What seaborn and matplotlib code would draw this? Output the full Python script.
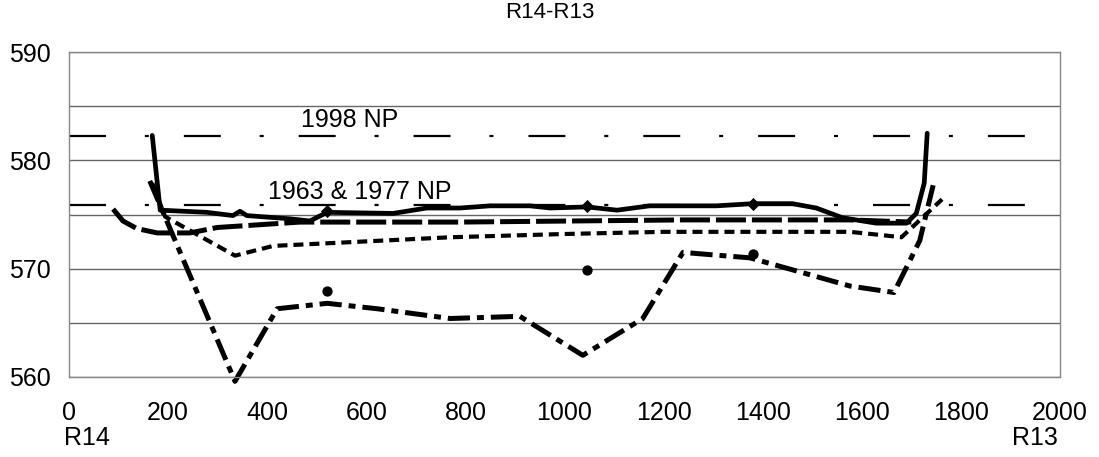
import matplotlib
matplotlib.use('Agg')
import matplotlib.pyplot as plt
import seaborn as sns
import pandas as pd

# Dados
x_1998 = [168, 184, 278, 331, 345, 359, 446, 486, 521, 654, 722, 789, 850, 930, 971, 1045,
          1106, 1172, 1307, 1380, 1460, 1508, 1561, 1629, 1690, 1710, 1726, 1732]
y_1998 = [582.3, 575.4, 575.2, 574.9, 575.3, 574.9, 574.6, 574.4, 575.2, 575.1, 575.6, 575.6,
          575.8, 575.8, 575.6, 575.7, 575.4, 575.8, 575.8, 576.0, 576.0, 575.6, 574.7, 574.2,
          574.2, 575.1, 577.9, 582.5]

x_1977 = [89, 109, 137, 178, 244, 299, 466, 789, 1239, 1576, 1700]
y_1977 = [575.5, 574.4, 573.7, 573.3, 573.3, 573.8, 574.3, 574.3, 574.5, 574.5, 574.3]

x_1963 = [168, 194, 335, 412, 547, 770, 1000, 1200, 1410, 1576, 1640, 1680, 1762]
y_1963 = [577.9, 574.8, 571.2, 572.1, 572.4, 572.9, 573.2, 573.4, 573.4, 573.4, 573.1, 572.9, 576.4]

x_talv = [163, 335, 420, 521, 622, 769, 910, 1037, 1158, 1239, 1374, 1576, 1665, 1717, 1744]
y_talv = [578.1, 559.6, 566.3, 566.8, 566.3, 565.4, 565.6, 562.0, 565.4, 571.5, 571.0, 568.4,
          567.8, 572.6, 577.7]

x_pontos = [521, 1045, 1380]
y_pontos = [567.9, 569.9, 571.4]
y_marcas = [575.3, 575.8, 576.0]

np_1998 = 582.2
np_1963_1977 = 575.9

sns.set_theme(style='white')
plt.rcParams['font.family'] = ['Liberation Sans', 'DejaVu Sans']
plt.rcParams['lines.scale_dashes'] = False
plt.rcParams['text.color'] = 'black'
plt.rcParams['xtick.labelcolor'] = 'black'
plt.rcParams['ytick.labelcolor'] = 'black'

fig = plt.figure(figsize=(10.99, 4.57), dpi=100)
ax = fig.add_axes([69/1099, 1 - 377/457, (1060 - 69)/1099, (377 - 52)/457])

# Linhas de nível NP
np_style = (0, (26.6, 28, 2.9, 25.2))
for nivel in [np_1998, np_1963_1977]:
    sns.lineplot(x=[0, 2000], y=[nivel, nivel], color='black', lw=1.6, linestyle=np_style, ax=ax)

# Séries
sns.lineplot(x=x_1977, y=y_1977, sort=False, color='black', lw=3.6,
             linestyle=(0, (21.6, 4.3)), ax=ax)
sns.lineplot(x=x_1963, y=y_1963, sort=False, color='black', lw=3.0,
             linestyle=(0, (7.2, 4.3)), ax=ax)
sns.lineplot(x=x_talv, y=y_talv, sort=False, color='black', lw=3.6,
             linestyle=(0, (16, 5, 5, 5)), ax=ax, clip_on=False)
sns.lineplot(x=x_1998, y=y_1998, sort=False, color='black', lw=3.4, ax=ax)

sns.scatterplot(x=x_pontos, y=y_marcas, marker='D', s=45, color='black', edgecolor='black',
                linewidth=0, ax=ax, zorder=5)
sns.scatterplot(x=x_pontos, y=y_pontos, marker='o', s=55, color='black', edgecolor='black',
                linewidth=0, ax=ax, zorder=5)

ax.text(567, 583.7, '1998 NP', fontsize=18, ha='center', va='center')
ax.text(587, 577.1, '1963 & 1977 NP', fontsize=18, ha='center', va='center')

ax.set_xlim(0, 2000)
ax.set_ylim(560, 590)
ax.set_xticks(range(0, 2001, 200))
ax.set_xticks(range(100, 2000, 200), minor=True)
ax.set_yticks([560, 570, 580, 590])
ax.set_yticks([565, 575, 585], minor=True)
ax.yaxis.grid(True, which='both', color='#666666', lw=1)
ax.xaxis.grid(False)
ax.tick_params(axis='x', which='major', direction='in', length=12, width=1, color='#555555',
               labelsize=18, pad=17)
ax.tick_params(axis='x', which='minor', direction='in', length=6.5, width=1, color='#555555')
ax.tick_params(axis='y', which='both', length=0, labelsize=18, pad=13)
for lado in ['left', 'right', 'top', 'bottom']:
    ax.spines[lado].set_color('#888888')
    ax.spines[lado].set_linewidth(1)
ax.set_xlabel('')
ax.set_ylabel('')

fig.text(0.5, 1 - 13/457, 'R14-R13', fontsize=16, ha='center', va='center')
fig.text(64/1099, 1 - 438/457, 'R14', fontsize=18, ha='left', va='center')
fig.text(1058/1099, 1 - 438/457, 'R13', fontsize=18, ha='right', va='center')

fig.savefig('out.png', dpi=100)
